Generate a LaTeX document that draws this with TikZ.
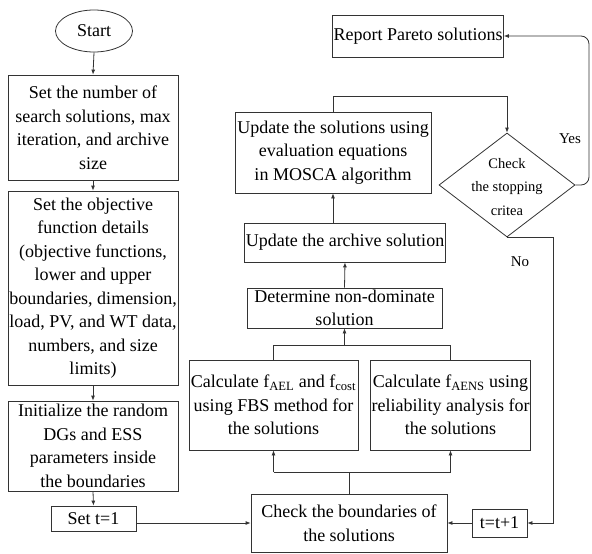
\documentclass[tikz,border=0pt]{standalone}
\usepackage{fontspec}
\setmainfont{Liberation Serif}
\usetikzlibrary{shapes.geometric,arrows.meta}
\begin{document}
\begin{tikzpicture}[x=1pt,y=-1pt,
  box/.style={draw=black!80, line width=0.8pt, rectangle, align=center, inner sep=1pt, font=\fontsize{18}{23.5}\selectfont},
  arr/.style={-{Latex[length=5pt,width=4pt]}, draw=black!80, line width=0.8pt},
  ln/.style={draw=black!80, line width=0.8pt},
  lbl/.style={font=\fontsize{15}{18}\selectfont, inner sep=0pt}]
\useasboundingbox (0,0) rectangle (592,554);
% nodes
\node[ellipse, draw=black!80, line width=0.8pt, minimum width=77pt, minimum height=42pt, inner sep=0pt, font=\fontsize{18}{23.5}\selectfont] (start) at (94,31) {Start};
\node[box, minimum width=170pt, minimum height=105pt] (b1) at (93,127.5) {Set the number of\\search solutions, max\\iteration, and archive\\size};
\node[box, minimum width=170pt, minimum height=194pt] (b2) at (93,288) {Set the objective\\function details\\(objective functions,\\lower and upper\\boundaries, dimension,\\load, PV, and WT data,\\numbers, and size\\limits)};
\node[box, minimum width=170pt, minimum height=90pt] (b3) at (93,446) {Initialize the random\\DGs and ESS\\parameters inside\\the boundaries};
\node[box, minimum width=85pt, minimum height=25pt] (sett) at (93.5,518.5) {Set t=1};
\node[box, minimum width=196pt, minimum height=58pt] (check) at (349,523) {Check the boundaries of\\the solutions};
\node[box, minimum width=55pt, minimum height=28pt] (tinc) at (499.5,523) {t=t+1};
\node[box, minimum width=169pt, minimum height=90pt] (fael) at (273.5,405) {Calculate f\textsubscript{AEL} and f\textsubscript{cost}\\using FBS method for\\the solutions};
\node[box, minimum width=155pt, minimum height=90pt] (faens) at (450.5,405) {Calculate f\textsubscript{AENS} using\\reliability analysis for\\the solutions};
\node[box, minimum width=195pt, minimum height=40pt] (det) at (344.5,308) {Determine non-dominate\\solution};
\node[box, minimum width=196pt, minimum height=39pt] (arch) at (345,242.5) {Update the archive solution};
\node[box, minimum width=196pt, minimum height=81pt] (upd) at (333,152.5) {Update the solutions using\\evaluation equations\\in MOSCA algorithm};
\node[box, minimum width=170pt, minimum height=42pt] (rep) at (418,36) {Report Pareto solutions};
\node[diamond, draw=black!80, line width=0.8pt, minimum width=136pt, minimum height=104pt, inner sep=0pt] (dia) at (507,185) {};
\node[align=center, inner sep=0pt, font=\fontsize{14.5}{23.5}\selectfont] (diatext) at (507,187) {Check\\the stopping\\critea};
\node[lbl] (yes) at (570,139) {Yes};
\node[lbl] (no) at (520,262) {No};
% helper coordinates
\coordinate (j1) at (0,472);
\coordinate (j2) at (0,345);
\coordinate (j3) at (0,96);
\coordinate (rx) at (589,0);
\coordinate (nx) at (553,0);
% connectors
\draw[arr] (start.south) -- (b1.north);
\draw[arr] (b1.south) -- (b2.north);
\draw[arr] (b2.south) -- (b3.north);
\draw[arr] (b3.south) -- (sett.north);
\draw[arr] (sett.east |- check.west) -- (check.west);
\draw[ln] (check.north) -- (check.north |- j1);
\draw[arr] (fael.south |- j1) -- (fael.south);
\draw[arr] (fael.south |- j1) -- (faens.south |- j1) -- (faens.south);
\draw[ln] (fael.north) -- (fael.north |- j2) -- (faens.north |- j2) -- (faens.north);
\draw[arr] (det.south |- j2) -- (det.south);
\draw[arr] (det.north) -- (arch.south);
\draw[arr] (arch.north -| upd.south) -- (upd.south);
\draw[arr] (upd.north) -- (upd.north |- j3) -- (dia.north |- j3) -- (dia.north);
\draw[arr, rounded corners=8pt] (dia.east) -- (dia.east -| rx) -- (rep.east -| rx) -- (rep.east);
\draw[arr] (dia.south) -- (dia.south -| nx) -- (tinc.east -| nx) -- (tinc.east);
\draw[arr] (tinc.west) -- (check.east);
\end{tikzpicture}
\end{document}
